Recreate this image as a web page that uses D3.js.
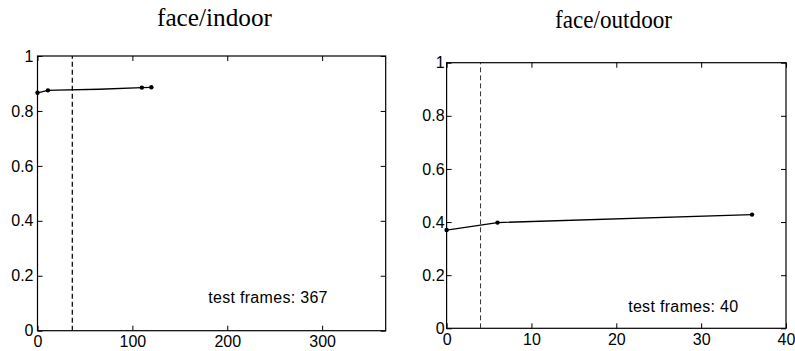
<!DOCTYPE html>
<html>
<head>
<meta charset="utf-8">
<script src="https://cdn.jsdelivr.net/npm/d3@7"></script>
<style>
  html, body { margin: 0; padding: 0; background: #fff; }
  svg { display: block; }
</style>
</head>
<body>
<svg id="chart" width="795" height="351"></svg>
<script>
// ---- data ----
const titles = ["face/indoor", "face/outdoor"];
const testFrames = [367, 40];
const xMaxes = [367, 40];
const xTicksIndoor = [0, 100, 200, 300];
const xTicksOutdoor = [0, 10, 20, 30, 40];
const yTicks = [0, 0.2, 0.4, 0.6, 0.8, 1];
const yTickLabels = ["0", "0.2", "0.4", "0.6", "0.8", "1"];
// indoor curve (x = frames, y = accuracy)
const indoorX = [0, 11, 20, 65, 110, 120];
const indoorY = [0.866, 0.875, 0.876, 0.879, 0.885, 0.886];
const indoorMarked = [true, true, false, false, true, true];
// outdoor curve
const outdoorX = [0, 6, 36];
const outdoorY = [0.370, 0.398, 0.428];
const outdoorMarked = [true, true, true];
// dashed vertical line positions (10% of test frames)
const dashX = [36.7, 4];
// annotation positions (data coords)
const noteX = [180, 21.4];
const noteY = [0.10, 0.0625];

// ---- layout ----
const panels = [
  { x0: 37.5, x1: 385.7, yTop: 56, yBot: 330.7, titleX: 214.5, titleY: 26, titleLen: 115,
    xTicks: xTicksIndoor, xs: indoorX, ys: indoorY, marked: indoorMarked, labelGap: 4,
    dashColor: "#111", dashWidth: 1.3 },
  { x0: 446.6, x1: 786, yTop: 62.7, yBot: 328.3, titleX: 613.5, titleY: 28, titleLen: 117,
    xTicks: xTicksOutdoor, xs: outdoorX, ys: outdoorY, marked: outdoorMarked, labelGap: 2,
    dashColor: "#333", dashWidth: 1 }
];

const svg = d3.select("#chart");

panels.forEach((p, i) => {
  const x = d3.scaleLinear().domain([0, xMaxes[i]]).range([p.x0, p.x1]);
  const y = d3.scaleLinear().domain([0, 1]).range([p.yBot, p.yTop]);
  const g = svg.append("g");

  // title
  g.append("text")
    .attr("x", p.titleX - p.titleLen / 2).attr("y", p.titleY)
    .attr("font-family", "'Liberation Serif', 'Times New Roman', serif")
    .attr("font-size", 25)
    .attr("textLength", p.titleLen)
    .attr("lengthAdjust", "spacingAndGlyphs")
    .attr("fill", "#000")
    .text(titles[i]);

  const tickLen = 5;
  const font = "'Liberation Sans', Arial, Helvetica, sans-serif";

  // axes with inward ticks
  const axBottom = d3.axisBottom(x).tickValues(p.xTicks).tickSize(-tickLen).tickPadding(5).tickFormat(d3.format("d"));
  const axTop = d3.axisTop(x).tickValues(p.xTicks).tickSize(-tickLen).tickFormat("");
  const axLeft = d3.axisLeft(y).tickValues(yTicks).tickSize(-tickLen).tickPadding(p.labelGap)
      .tickFormat((d, k) => yTickLabels[k]);
  const axRight = d3.axisRight(y).tickValues(yTicks).tickSize(-tickLen).tickFormat("");

  const styleAxis = sel => {
    sel.select(".domain").remove();
    sel.selectAll("line").attr("stroke", "#000").attr("stroke-width", 1);
    sel.selectAll("text").attr("font-family", font).attr("font-size", 16).attr("fill", "#000");
  };
  g.append("g").attr("transform", `translate(0,${p.yBot})`).call(axBottom).call(styleAxis);
  g.append("g").attr("transform", `translate(0,${p.yTop})`).call(axTop).call(styleAxis);
  g.append("g").attr("transform", `translate(${p.x0},0)`).call(axLeft).call(styleAxis);
  g.append("g").attr("transform", `translate(${p.x1},0)`).call(axRight).call(styleAxis);

  // frame
  g.append("rect")
    .attr("x", x(0)).attr("y", y(1))
    .attr("width", x(xMaxes[i]) - x(0)).attr("height", y(0) - y(1))
    .attr("fill", "none").attr("stroke", "#000").attr("stroke-width", 1.2);

  // dashed line
  g.append("line")
    .attr("x1", x(dashX[i])).attr("x2", x(dashX[i]))
    .attr("y1", y(0)).attr("y2", y(1))
    .attr("stroke", p.dashColor).attr("stroke-width", p.dashWidth)
    .attr("stroke-dasharray", "5,3");

  // curve
  const pts = p.xs.map((d, k) => ({ x: d, y: p.ys[k], m: p.marked[k] }));
  g.append("path")
    .datum(pts)
    .attr("d", d3.line().x(d => x(d.x)).y(d => y(d.y)))
    .attr("fill", "none").attr("stroke", "#000").attr("stroke-width", 1.3);
  g.selectAll("circle.pt")
    .data(pts.filter(d => d.m))
    .enter().append("circle")
    .attr("class", "pt")
    .attr("cx", d => x(d.x)).attr("cy", d => y(d.y))
    .attr("r", 2.2).attr("fill", "#000");

  // annotation
  g.append("text")
    .attr("x", x(noteX[i])).attr("y", y(noteY[i]))
    .attr("font-family", font).attr("font-size", 16)
    .attr("letter-spacing", 0.3)
    .attr("fill", "#000")
    .text("test frames: " + testFrames[i]);
});
</script>
</body>
</html>
